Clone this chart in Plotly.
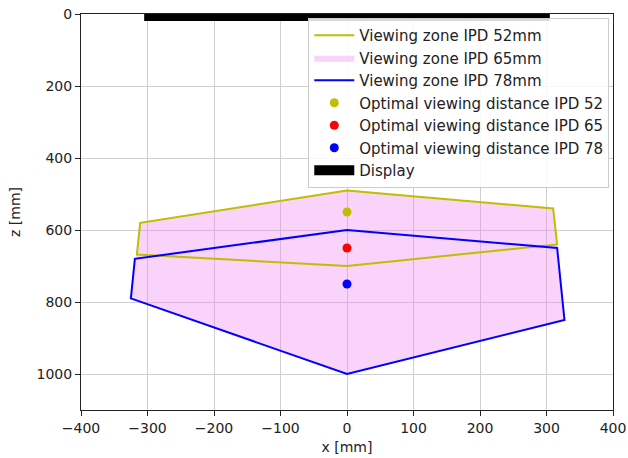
import plotly.graph_objects as go

# Data
zone52_x = [0, 310, 316, 0, -316, -311, 0]
zone52_z = [490, 540, 640, 700, 668, 580, 490]

zone65_x = [0, 310, 316, 316, 327, 0, -325, -319, -316, -311, 0]
zone65_z = [490, 540, 640, 650, 850, 1000, 790, 680, 668, 580, 490]

zone78_x = [0, 316, 327, 0, -325, -319, 0]
zone78_z = [600, 650, 850, 1000, 790, 680, 600]

opt_x = [0, 0, 0]
opt_z = [550, 650, 750]
opt_names = ["Optimal viewing distance IPD 52", "Optimal viewing distance IPD 65", "Optimal viewing distance IPD 78"]
opt_colors = ["#bfbf00", "#ff0000", "#0000ff"]

display_x = [-305, 305]
display_z = [0, 0]

x_ticks = [-400, -300, -200, -100, 0, 100, 200, 300, 400]
z_ticks = [0, 200, 400, 600, 800, 1000]

fig = go.Figure()
fig.add_trace(go.Scatter(x=zone65_x, y=zone65_z, mode="lines", fill="toself", name="Viewing zone IPD 65mm",
                         line=dict(width=0, color="rgba(238,130,238,0)"), fillcolor="rgba(238,130,238,0.35)",
                         legendrank=2))
fig.add_trace(go.Scatter(x=zone52_x, y=zone52_z, mode="lines", name="Viewing zone IPD 52mm",
                         line=dict(color="#bfbf00", width=2), legendrank=1))
fig.add_trace(go.Scatter(x=zone78_x, y=zone78_z, mode="lines", name="Viewing zone IPD 78mm",
                         line=dict(color="#0000ff", width=2), legendrank=3))
for i in range(3):
    fig.add_trace(go.Scatter(x=[opt_x[i]], y=[opt_z[i]], mode="markers", name=opt_names[i],
                             marker=dict(color=opt_colors[i], size=9), legendrank=4 + i))
fig.add_trace(go.Scatter(x=display_x, y=display_z, mode="lines", name="Display",
                         line=dict(color="black", width=14), legendrank=7))

axis_common = dict(showgrid=True, gridcolor="#cfcfcf", gridwidth=1, zeroline=False,
                   showline=True, linecolor="#222", linewidth=1, mirror=True,
                   ticks="outside", ticklen=5, tickcolor="#222", automargin=False,
                   tickfont=dict(size=14, color="#222"))

fig.update_layout(
    width=628, height=458,
    margin=dict(l=81, r=15, t=14, b=48),
    plot_bgcolor="white", paper_bgcolor="white",
    font=dict(family="DejaVu Sans", size=14, color="#222"),
    legend=dict(x=0.993, y=0.99, xanchor="right", yanchor="top", itemwidth=40,
                bgcolor="rgba(255,255,255,0.85)", bordercolor="#cccccc", borderwidth=1,
                font=dict(size=15, color="#222"), tracegroupgap=0),
    xaxis=dict(range=[-400, 400], tickvals=x_ticks,
               title=dict(text="x [mm]", standoff=7, font=dict(size=14)), **axis_common),
    yaxis=dict(range=[1100, 0], tickvals=z_ticks,
               title=dict(text="z [mm]", standoff=12, font=dict(size=14)), **axis_common),
)

fig.write_html("out.html", config={"displayModeBar": False},
               post_script="document.body.style.margin='0';document.body.style.overflow='hidden';")
